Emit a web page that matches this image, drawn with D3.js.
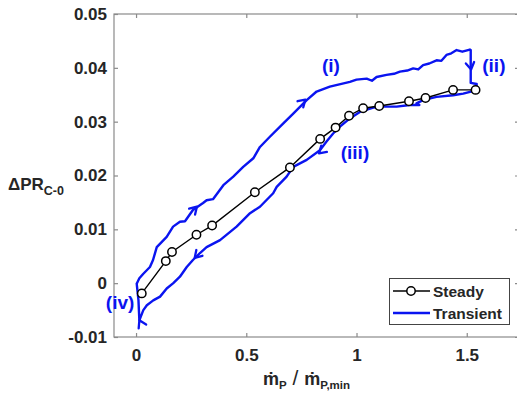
<!DOCTYPE html>
<html><head><meta charset="utf-8">
<script src="https://cdn.jsdelivr.net/npm/d3@7"></script>
<style>body{margin:0;background:#fff}svg{display:block}text{font-family:"Liberation Sans",Arial,sans-serif;font-weight:bold}</style>
</head><body><svg id="c" width="517" height="402"></svg>
<script>
const xTicks = [0, 0.5, 1, 1.5];
const xTickLabels = ["0", "0.5", "1", "1.5"];
const yTicks = [-0.01, 0, 0.01, 0.02, 0.03, 0.04, 0.05];
const yTickLabels = ["-0.01", "0", "0.01", "0.02", "0.03", "0.04", "0.05"];

const steadyX = [0.026, 0.135, 0.163, 0.274, 0.345, 0.539, 0.698, 0.835, 0.905, 0.966, 1.030, 1.103, 1.238, 1.313, 1.438, 1.540];
const steadyY = [-0.0019, 0.0041, 0.0058, 0.0090, 0.0107, 0.0169, 0.0215, 0.0268, 0.0289, 0.0311, 0.0325, 0.0329, 0.0338, 0.0344, 0.0359, 0.0359];

const transientX = [0.003, 0.015, 0.032, 0.063, 0.077, 0.094, 0.139, 0.168, 0.199, 0.222, 0.258, 0.304, 0.320, 0.349, 0.396, 0.441, 0.486, 0.532, 0.562, 0.607, 0.668, 0.713, 0.774, 0.819, 0.879, 0.970, 1.000, 1.046, 1.070, 1.091, 1.136, 1.170, 1.197, 1.230, 1.257, 1.280, 1.302, 1.330, 1.363, 1.385, 1.408, 1.430, 1.454, 1.480, 1.514,
  1.518, 1.518, 1.545, 1.541,
  1.484, 1.438, 1.363, 1.302, 1.272, 1.285, 1.242, 1.182, 1.121, 1.076, 1.015, 0.970, 0.925, 0.894, 0.864, 0.834, 0.774, 0.713, 0.683, 0.638, 0.622, 0.562, 0.517, 0.456, 0.381, 0.320, 0.290, 0.258, 0.230, 0.199, 0.169, 0.139, 0.109, 0.078, 0.049, 0.033, 0.015,
  0.011, 0.003];
const transientY = [-0.0001, 0.0009, 0.0017, 0.0030, 0.0043, 0.0067, 0.0086, 0.0105, 0.0114, 0.0115, 0.0136, 0.0149, 0.0154, 0.0156, 0.0182, 0.0198, 0.0216, 0.0232, 0.0253, 0.0272, 0.0297, 0.0315, 0.0340, 0.0356, 0.0365, 0.0374, 0.0378, 0.0380, 0.0376, 0.0383, 0.0387, 0.0389, 0.0393, 0.0395, 0.0399, 0.0397, 0.0405, 0.0408, 0.0414, 0.0413, 0.0424, 0.0427, 0.0433, 0.0430, 0.0434,
  0.0433, 0.0372, 0.0370, 0.0358,
  0.0352, 0.0349, 0.0346, 0.0340, 0.0334, 0.0331, 0.0331, 0.0328, 0.0328, 0.0326, 0.0318, 0.0306, 0.0291, 0.0278, 0.0263, 0.0247, 0.0229, 0.0216, 0.0198, 0.0179, 0.0167, 0.0142, 0.0130, 0.0105, 0.0080, 0.0067, 0.0056, 0.0043, 0.0030, 0.0012, 0.0000, -0.0010, -0.0025, -0.0032, -0.0041, -0.0050, -0.0069,
  -0.0032, -0.0001];

// arrow positions along the transient path (data coords)
const arrowX = [0.276, 0.768, 1.520, 0.830, 0.266, 0.015];
const arrowY = [0.0142, 0.0341, 0.0397, 0.0241, 0.0047, -0.0069];

const labelText = ["(i)", "(ii)", "(iii)", "(iv)"];
const labelX = [0.884, 1.623, 0.993, -0.0725];
const labelY = [0.0393, 0.0393, 0.0230, -0.0048];

const svg = d3.select("#c");
const x = d3.scaleLinear().domain([-0.1, 1.737]).range([114, 519]);
const y = d3.scaleLinear().domain([-0.01, 0.05]).range([337, 14]);
const axisColor = "#8a8a8a";
const textColor = "#262626";
const blue = "#0a14f0";

// box
svg.append("rect").attr("x", x.range()[0]).attr("y", y.range()[1])
  .attr("width", x.range()[1] - x.range()[0]).attr("height", y.range()[0] - y.range()[1])
  .attr("fill", "none").attr("stroke", axisColor).attr("stroke-width", 1.2);

// axes
const gx = svg.append("g").attr("transform", `translate(0,${y.range()[0]})`)
  .call(d3.axisBottom(x).tickValues(xTicks).tickFormat((d, i) => xTickLabels[i]).tickSizeInner(-4).tickSizeOuter(0).tickPadding(12));
const gxt = svg.append("g").attr("transform", `translate(0,${y.range()[1]})`)
  .call(d3.axisTop(x).tickValues(xTicks).tickFormat("").tickSizeInner(-4).tickSizeOuter(0));
const gy = svg.append("g").attr("transform", `translate(${x.range()[0]},0)`)
  .call(d3.axisLeft(y).tickValues(yTicks).tickFormat((d, i) => yTickLabels[i]).tickSizeInner(-4).tickSizeOuter(0).tickPadding(7));
const gyr = svg.append("g").attr("transform", `translate(${x.range()[1]},0)`)
  .call(d3.axisRight(y).tickValues(yTicks).tickFormat("").tickSizeInner(-4).tickSizeOuter(0));
[gx, gxt, gy, gyr].forEach(g => {
  g.select(".domain").remove();
  g.selectAll(".tick line").attr("stroke", axisColor).attr("stroke-width", 1.2);
  g.selectAll(".tick text").attr("fill", textColor).attr("font-size", 17)
    .attr("font-family", '"Liberation Sans",Arial,sans-serif').attr("font-weight", "bold");
});

// transient line
const tPts = transientX.map((d, i) => [d, transientY[i]]);
const line = d3.line().x(d => x(d[0])).y(d => y(d[1]));
svg.append("path").datum(tPts).attr("d", line).attr("fill", "none")
  .attr("stroke", blue).attr("stroke-width", 2.4).attr("stroke-linejoin", "round").attr("stroke-linecap", "round");

// arrows
arrowX.forEach((ax, k) => {
  const ay = arrowY[k];
  const px = x(ax), py = y(ay);
  let best = 0, bd = Infinity;
  tPts.forEach((p, i) => { const d = (x(p[0]) - px) ** 2 + (y(p[1]) - py) ** 2; if (d < bd) { bd = d; best = i; } });
  const a = tPts[Math.max(0, best - 1)], b = tPts[Math.min(tPts.length - 1, best + 1)];
  const ang = Math.atan2(y(b[1]) - y(a[1]), x(b[0]) - x(a[0]));
  const L = 8, spread = 0.55;
  const p1 = [px - L * Math.cos(ang - spread), py - L * Math.sin(ang - spread)];
  const p2 = [px - L * Math.cos(ang + spread), py - L * Math.sin(ang + spread)];
  svg.append("path").attr("d", `M${p1[0]},${p1[1]}L${px},${py}L${p2[0]},${p2[1]}`)
    .attr("fill", "none").attr("stroke", blue).attr("stroke-width", 2.3).attr("stroke-linecap", "round").attr("stroke-linejoin", "round");
});

// steady line
const sPts = steadyX.map((d, i) => [d, steadyY[i]]);
svg.append("path").datum(sPts).attr("d", line).attr("fill", "none").attr("stroke", "#000").attr("stroke-width", 1.4);
svg.selectAll("circle.s").data(sPts).enter().append("circle").attr("class", "s")
  .attr("cx", d => x(d[0])).attr("cy", d => y(d[1])).attr("r", 4.2)
  .attr("fill", "#fff").attr("stroke", "#000").attr("stroke-width", 1.5);

// region labels
labelText.forEach((t, i) => {
  svg.append("text").attr("x", x(labelX[i])).attr("y", y(labelY[i])).attr("text-anchor", "middle")
    .attr("fill", blue).attr("font-size", 19).text(t);
});

// legend
const lg = svg.append("g");
lg.append("rect").attr("x", 389.5).attr("y", 278.5).attr("width", 120).attr("height", 46)
  .attr("fill", "#fff").attr("stroke", "#444").attr("stroke-width", 1);
lg.append("line").attr("x1", 393).attr("x2", 430).attr("y1", 291).attr("y2", 291).attr("stroke", "#000").attr("stroke-width", 1.4);
lg.append("circle").attr("cx", 411).attr("cy", 291).attr("r", 4.2).attr("fill", "#fff").attr("stroke", "#000").attr("stroke-width", 1.5);
lg.append("text").attr("x", 433).attr("y", 296.5).attr("font-size", 15.5).attr("fill", textColor).text("Steady");
lg.append("line").attr("x1", 393).attr("x2", 430).attr("y1", 313).attr("y2", 313).attr("stroke", blue).attr("stroke-width", 2.4);
lg.append("text").attr("x", 433).attr("y", 318.5).attr("font-size", 15.5).attr("fill", textColor).text("Transient");

// y label
const yl = svg.append("text").attr("x", 8).attr("y", 190).attr("font-size", 17).attr("fill", textColor);
yl.append("tspan").text("ΔPR");
yl.append("tspan").attr("font-size", 12.5).attr("dy", 5).text("C-0");

// x label
const xl = svg.append("text").attr("x", 263).attr("y", 385).attr("font-size", 18).attr("fill", textColor);
xl.append("tspan").text("ṁ");
xl.append("tspan").attr("font-size", 11.5).attr("dy", 4).text("P");
xl.append("tspan").attr("dy", -4).attr("font-weight", "normal").attr("font-size", 21).text(" / ");
xl.append("tspan").text("ṁ");
xl.append("tspan").attr("font-size", 11.5).attr("dy", 4).text("P,min");
</script></body></html>
